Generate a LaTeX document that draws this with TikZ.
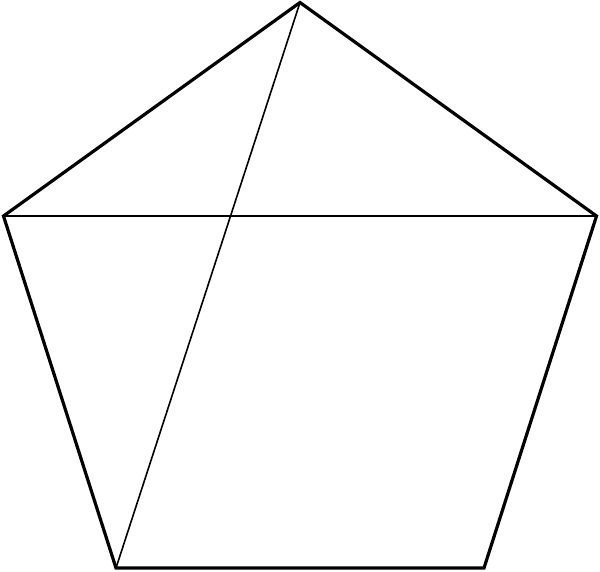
\documentclass[tikz,border=0pt]{standalone}
\begin{document}
\begin{tikzpicture}[x=1pt,y=-1pt,
  outer/.style={line width=3.2pt,line join=miter},
  diag/.style={line width=1.6pt}]
\useasboundingbox (0,0) rectangle (600,571);
\coordinate (T) at (300,2.5);
\coordinate (L) at (3.5,216);
\coordinate (R) at (596.5,216);
\coordinate (BL) at (116,568);
\coordinate (BR) at (484,568);
\draw[diag] (L) -- (R);
\draw[diag] (T) -- (BL);
\draw[outer] (T) -- (R) -- (BR) -- (BL) -- (L) -- cycle;
\end{tikzpicture}
\end{document}
